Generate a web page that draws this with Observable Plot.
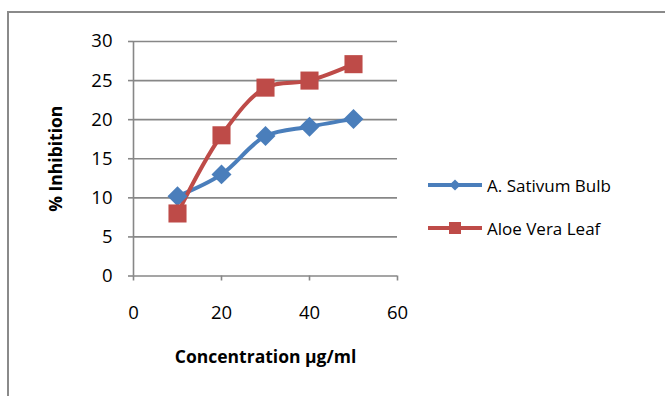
<!DOCTYPE html>
<html>
<head>
<meta charset="utf-8">
<script src="https://cdn.jsdelivr.net/npm/d3@7"></script>
<script src="https://cdn.jsdelivr.net/npm/@observablehq/plot@0.6"></script>
<style>
  html, body { margin: 0; padding: 0; background: #fff; }
  #wrap { position: relative; width: 665px; height: 396px; overflow: hidden; font-family: "Open Sans", sans-serif; }
  #border { position: absolute; left: 7px; top: 11px; width: 700px; height: 440px; border: 2.5px solid #8a8a8a; box-sizing: border-box; }
  #chart { position: absolute; left: 0; top: 0; }
  #legend { position: absolute; left: 428px; top: 170px; font-size: 17px; color: #000; }
  .item { display: flex; align-items: center; height: 30px; margin-bottom: 13px; }
  .item svg { margin-right: 5px; }
</style>
</head>
<body>
<div id="wrap">
  <div id="border"></div>
  <div id="chart"></div>
  <div id="legend"></div>
</div>
<script>
const concentration = [10, 20, 30, 40, 50];
const sativum = [10.2, 13.0, 17.9, 19.1, 20.1];
const aloe = [8.0, 18.0, 24.1, 25.0, 27.1];
const seriesNames = ["A. Sativum Bulb", "Aloe Vera Leaf"];
const seriesColors = ["#4A7EBB", "#BE4B48"];
const xTicks = [0, 20, 40, 60];
const yTicks = [0, 5, 10, 15, 20, 25, 30];
const xTitle = "Concentration µg/ml";
const yTitle = "% Inhibition";

const rows = [];
concentration.forEach((c, i) => {
  rows.push({x: c, y: sativum[i], s: seriesNames[0]});
  rows.push({x: c, y: aloe[i], s: seriesNames[1]});
});
const blue = rows.filter(d => d.s === seriesNames[0]);
const red = rows.filter(d => d.s === seriesNames[1]);
const grid = "#878787";

const chart = Plot.plot({
  width: 665,
  height: 396,
  marginLeft: 133,
  marginRight: 268,
  marginTop: 41,
  marginBottom: 120.5,
  style: {fontFamily: "Open Sans, sans-serif", background: "transparent", overflow: "visible"},
  x: {domain: [0, 60]},
  y: {domain: [0, 30]},
  marks: [
    Plot.gridY(yTicks, {stroke: grid, strokeOpacity: 1, strokeWidth: 1.6}),
    Plot.ruleX([0], {stroke: grid, strokeWidth: 1.6}),
    Plot.axisY(yTicks, {stroke: grid, strokeWidth: 1.6, tickSize: 5, tickPadding: 16, fill: "#000", label: null, fontSize: 18.5}),
    Plot.axisX(xTicks, {stroke: grid, strokeWidth: 1.6, tickSize: 5, tickPadding: 25, fill: "#000", label: null, fontSize: 18.5}),
    Plot.axisY({ticks: [], label: yTitle, labelAnchor: "center", labelArrow: "none", labelOffset: 84, fill: "#000"}),
    Plot.axisX({ticks: [], label: xTitle, labelAnchor: "center", labelArrow: "none", labelOffset: 87, fill: "#000"}),
    Plot.line(blue, {x: "x", y: "y", stroke: seriesColors[0], strokeWidth: 4, curve: "catmull-rom"}),
    Plot.line(red, {x: "x", y: "y", stroke: seriesColors[1], strokeWidth: 4, curve: "catmull-rom"}),
    Plot.dot(blue, {x: "x", y: "y", symbol: "diamond2", r: 9, fill: seriesColors[0], stroke: "none"}),
    Plot.dot(red, {x: "x", y: "y", symbol: "square", r: 10.2, fill: seriesColors[1], stroke: "none"})
  ]
});
chart.querySelectorAll("text").forEach(t => {
  if (t.textContent === xTitle || t.textContent === yTitle) {
    t.setAttribute("font-weight", "bold");
    t.setAttribute("font-size", "17.5");
  }
});
document.getElementById("chart").append(chart);

// Legend
const legend = document.getElementById("legend");
seriesNames.forEach((name, i) => {
  const item = document.createElement("div");
  item.className = "item";
  const svg = d3.create("svg").attr("width", 54).attr("height", 20);
  svg.append("line").attr("x1", 0).attr("x2", 54).attr("y1", 10).attr("y2", 10)
    .attr("stroke", seriesColors[i]).attr("stroke-width", 4);
  const sym = i === 0 ? d3.symbolDiamond2 : d3.symbolSquare;
  svg.append("path").attr("transform", "translate(27,10)")
    .attr("d", d3.symbol(sym, i === 0 ? 80 : 144)()).attr("fill", seriesColors[i]);
  item.append(svg.node());
  const span = document.createElement("span");
  span.textContent = name;
  item.append(span);
  legend.append(item);
});
</script>
</body>
</html>
